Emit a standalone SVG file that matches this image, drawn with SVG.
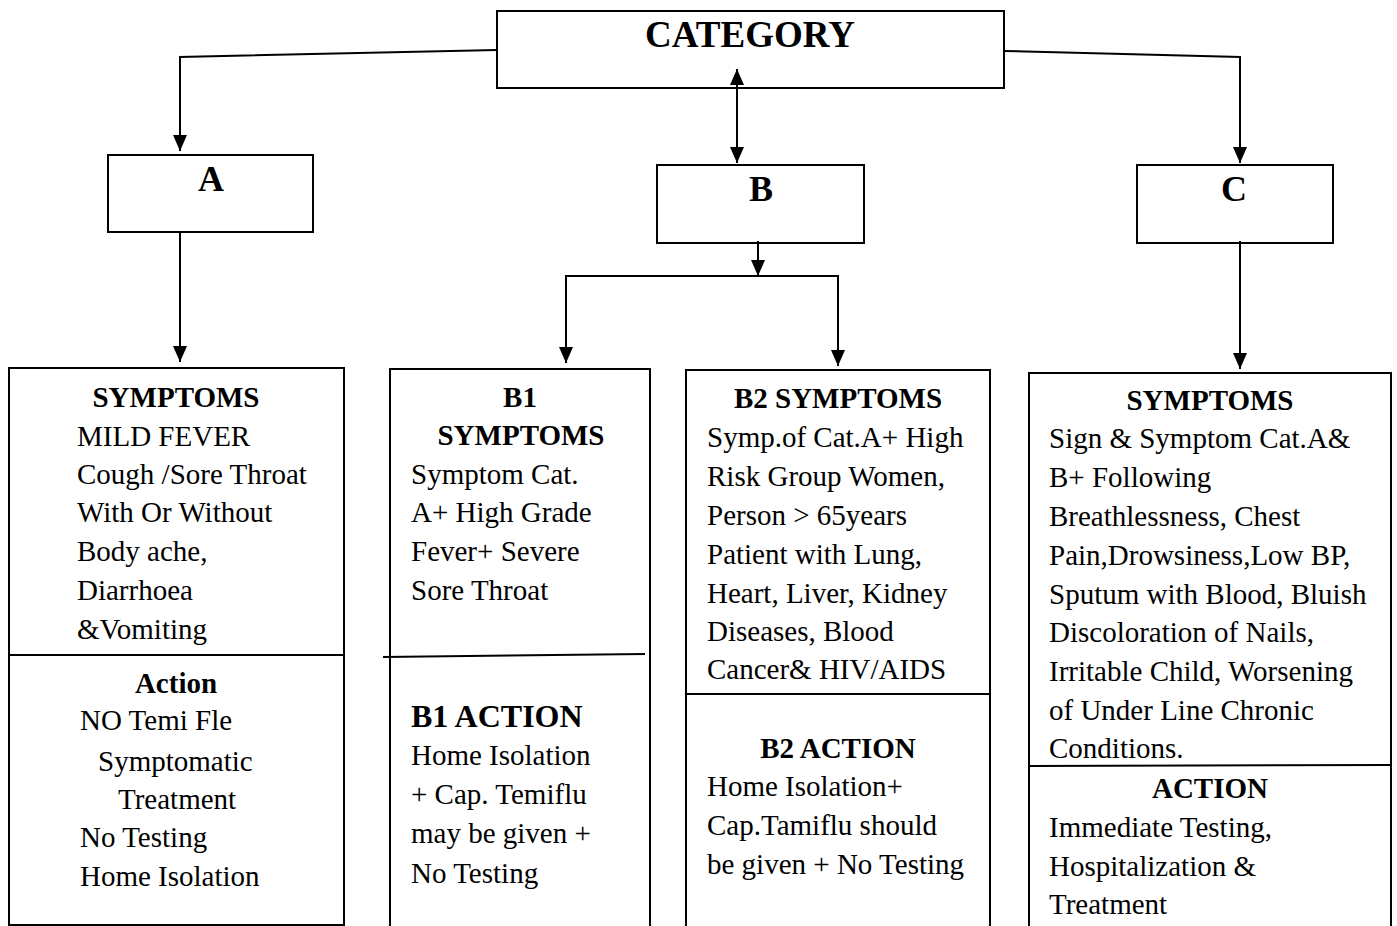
<svg xmlns="http://www.w3.org/2000/svg" width="1397" height="926" viewBox="0 0 1397 926">
<style>
.box{fill:none;stroke:#000;stroke-width:2}
.ln{fill:none;stroke:#000;stroke-width:2}
text{font-family:"Liberation Serif","Times New Roman",serif;font-size:29px;fill:#000}
.b{font-weight:bold}
.c{text-anchor:middle}
.big{font-size:36px;font-weight:bold;text-anchor:middle}
</style>
<defs>
<marker id="ah" viewBox="0 0 16 14" refX="16" refY="7" markerWidth="16" markerHeight="14" markerUnits="userSpaceOnUse" orient="auto-start-reverse">
<path d="M0,0 L16,7 L0,14 z" fill="#000"/>
</marker>
</defs>
<rect width="1397" height="926" fill="#fff"/>

<g id="connectors">
<polyline class="ln" points="497,50 180,57 180,151" marker-end="url(#ah)"/>
<polyline class="ln" points="1004,51 1240,57 1240,163" marker-end="url(#ah)"/>
<line class="ln" x1="737" y1="69" x2="737" y2="163" marker-start="url(#ah)" marker-end="url(#ah)"/>
<line class="ln" x1="180" y1="231" x2="180" y2="362" marker-end="url(#ah)"/>
<line class="ln" x1="758" y1="241" x2="758" y2="276" marker-end="url(#ah)"/>
<polyline class="ln" points="758,276 566,276 566,363" marker-end="url(#ah)"/>
<polyline class="ln" points="758,276 838,276 838,366" marker-end="url(#ah)"/>
<line class="ln" x1="1240" y1="241" x2="1240" y2="369" marker-end="url(#ah)"/>
</g>

<g id="category">
<rect class="box" x="497" y="11" width="507" height="77"/>
<text class="big" x="750" y="47" style="font-size:37px">CATEGORY</text>
</g>

<g id="nodeA">
<rect class="box" x="108" y="155" width="205" height="77"/>
<text class="big" x="211" y="191">A</text>
</g>

<g id="nodeB">
<rect class="box" x="657" y="165" width="207" height="78"/>
<text class="big" x="761" y="201">B</text>
</g>

<g id="nodeC">
<rect class="box" x="1137" y="165" width="196" height="78"/>
<text class="big" x="1234" y="201">C</text>
</g>

<g id="boxA">
<rect class="box" x="9" y="368" width="335" height="557"/>
<line class="ln" x1="9" y1="655" x2="344" y2="655"/>
<text class="b c" x="176" y="407">SYMPTOMS</text>
<text x="77" y="446">MILD FEVER</text>
<text x="77" y="484">Cough /Sore Throat</text>
<text x="77" y="522">With Or Without</text>
<text x="77" y="561">Body ache,</text>
<text x="77" y="600">Diarrhoea</text>
<text x="77" y="639">&amp;Vomiting</text>
<text class="b c" x="176" y="693">Action</text>
<text x="80" y="730">NO Temi Fle</text>
<text x="98" y="771">Symptomatic</text>
<text x="118" y="809">Treatment</text>
<text x="80" y="847">No Testing</text>
<text x="80" y="886">Home Isolation</text>
</g>

<g id="boxB1">
<rect class="box" x="390" y="369" width="260" height="570"/>
<line class="ln" x1="383" y1="657" x2="645" y2="654"/>
<text class="b c" x="520" y="407">B1</text>
<text class="b c" x="521" y="445">SYMPTOMS</text>
<text x="411" y="484">Symptom Cat.</text>
<text x="411" y="522">A+ High Grade</text>
<text x="411" y="561">Fever+ Severe</text>
<text x="411" y="600">Sore Throat</text>
<text class="b" x="411" y="727" style="font-size:32px">B1 ACTION</text>
<text x="411" y="765">Home Isolation</text>
<text x="411" y="804">+ Cap. Temiflu</text>
<text x="411" y="843">may be given +</text>
<text x="411" y="883">No Testing</text>
</g>

<g id="boxB2">
<rect class="box" x="686" y="370" width="304" height="570"/>
<line class="ln" x1="686" y1="694" x2="990" y2="694"/>
<text class="b c" x="838" y="408">B2 SYMPTOMS</text>
<text x="707" y="447">Symp.of Cat.A+ High</text>
<text x="707" y="486">Risk Group Women,</text>
<text x="707" y="525">Person &gt; 65years</text>
<text x="707" y="564">Patient with Lung,</text>
<text x="707" y="603">Heart, Liver, Kidney</text>
<text x="707" y="641">Diseases, Blood</text>
<text x="707" y="679">Cancer&amp; HIV/AIDS</text>
<text class="b c" x="838" y="758">B2 ACTION</text>
<text x="707" y="796">Home Isolation+</text>
<text x="707" y="835">Cap.Tamiflu should</text>
<text x="707" y="874">be given + No Testing</text>
</g>

<g id="boxC">
<rect class="box" x="1029" y="373" width="362" height="570"/>
<line class="ln" x1="1029" y1="766" x2="1391" y2="765"/>
<text class="b c" x="1210" y="410">SYMPTOMS</text>
<text x="1049" y="448">Sign &amp; Symptom Cat.A&amp;</text>
<text x="1049" y="487">B+ Following</text>
<text x="1049" y="526">Breathlessness, Chest</text>
<text x="1049" y="565">Pain,Drowsiness,Low BP,</text>
<text x="1049" y="604">Sputum with Blood, Bluish</text>
<text x="1049" y="642">Discoloration of Nails,</text>
<text x="1049" y="681">Irritable Child, Worsening</text>
<text x="1049" y="720">of Under Line Chronic</text>
<text x="1049" y="758">Conditions.</text>
<text class="b c" x="1210" y="798">ACTION</text>
<text x="1049" y="837">Immediate Testing,</text>
<text x="1049" y="876">Hospitalization &amp;</text>
<text x="1049" y="914">Treatment</text>
</g>
</svg>
